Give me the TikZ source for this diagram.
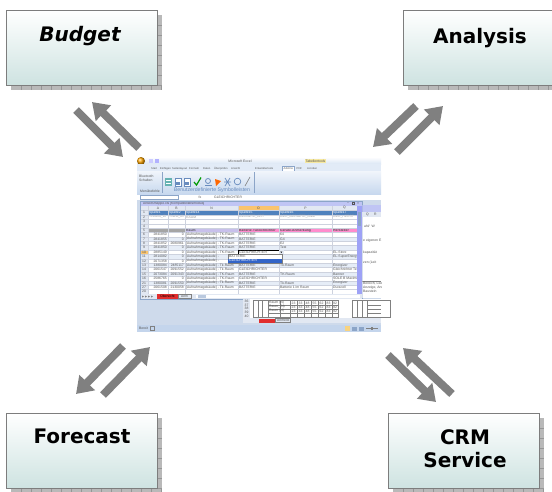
\documentclass[tikz,border=0pt]{standalone}
\usepackage{fontspec}
\setmainfont{Liberation Sans}
\newfontfamily\labfont{DejaVu Sans}
\usetikzlibrary{arrows.meta}
\definecolor{boxbot}{RGB}{206,227,225}
\definecolor{boxline}{RGB}{125,125,125}
\definecolor{shadowc}{RGB}{185,185,185}
\definecolor{shadowl}{RGB}{150,150,150}
\definecolor{arrowc}{RGB}{128,128,128}
\definecolor{ribbonc}{RGB}{219,230,245}
\definecolor{ribbond}{RGB}{199,216,238}
\definecolor{workc}{RGB}{206,218,235}
\definecolor{hdrblue}{RGB}{79,129,189}
\definecolor{pinkc}{RGB}{255,140,205}
\definecolor{lavc}{RGB}{200,192,235}
\definecolor{grayc}{RGB}{165,165,165}
\definecolor{stripec}{RGB}{230,237,247}
\definecolor{selblue}{RGB}{50,100,200}
\definecolor{orangec}{RGB}{250,196,110}
\definecolor{gridc}{RGB}{205,210,222}
\definecolor{redtab}{RGB}{225,45,45}
\definecolor{txtc}{RGB}{85,85,85}
\definecolor{symc}{RGB}{105,140,190}
\definecolor{framec}{RGB}{140,165,200}
\definecolor{hdrgray}{RGB}{226,232,242}
\definecolor{statusc}{RGB}{196,213,236}
\definecolor{yellowc}{RGB}{246,232,160}

\newcommand\mkshadow[4]{%
  \fill[shadowc] (#3,#2+5) rectangle (#3+5,#4+5);
  \fill[shadowc] (#1+5,#4) rectangle (#3+5,#4+5);
  \foreach \kk in {1,...,15}{\draw[shadowl,line width=0.4pt] (#1+5+10*\kk,#4) -- ++(0,5);}
  \foreach \kk in {1,...,7}{\draw[shadowl,line width=0.4pt] (#3,#2+5+10*\kk) -- ++(5,0);}
}

\tikzset{
  labelbox/.style={draw=boxline, line width=0.8pt, top color=white, bottom color=boxbot,
    minimum width=151pt, minimum height=75pt, inner sep=0pt},
  labeltext/.style={font=\labfont\bfseries\fontsize{20}{23}\selectfont, anchor=base,
    inner sep=0pt, align=center},
  flowarrow/.style={draw=arrowc, line width=8pt, -{Triangle[length=16pt,width=21pt]}},
  tinytext/.style={font=\fontsize{3.4}{3.6}\selectfont, inner sep=0pt, text=txtc},
  tinyw/.style={tinytext, anchor=west},
  tinye/.style={tinytext, anchor=east},
  tinyc/.style={tinytext, anchor=center},
  tabtext/.style={font=\fontsize{2.7}{3}\selectfont, inner sep=0pt, text=txtc, anchor=west},
  gridline/.style={draw=gridc, line width=0.3pt},
}

\begin{document}
\begin{tikzpicture}[x=1pt,y=-1pt]
\useasboundingbox (0,0) rectangle (552,491);
\clip (0,0) rectangle (552,491);
\fill[white] (0,0) rectangle (552,491);

% ---------- label boxes ----------
\mkshadow{6}{10}{157}{85}
\mkshadow{403}{10}{554}{85}
\mkshadow{6}{413}{157}{488}
\mkshadow{388}{413}{539}{488}

\node[labelbox] (budget)   at (81.5,47.5) {};
\node[labelbox] (analysis) at (478.5,47.5) {};
\node[labelbox] (forecast) at (81.5,450.5) {};
\node[labelbox] (crm)      at (463.5,450.5) {};

\node[labeltext, font=\labfont\bfseries\itshape\fontsize{20}{23}\selectfont] (budgetT) at (80,41) {Budget};
\node[labeltext] (analysisT) at (480,43) {Analysis};
\node[labeltext] (forecastT) at (82,443) {Forecast};
\node[labeltext] (crmT) at (465,467) {CRM\\Service};

% ---------- arrows ----------
\coordinate (b1s) at (76,110);  \coordinate (b1e) at (123,157);
\coordinate (b2s) at (139,148); \coordinate (b2e) at (92,102);
\coordinate (a1s) at (416,106); \coordinate (a1e) at (373,147);
\coordinate (a2s) at (397,152); \coordinate (a2e) at (443,106);
\coordinate (f1s) at (123,346); \coordinate (f1e) at (76,394);
\coordinate (f2s) at (103,395); \coordinate (f2e) at (150,347);
\coordinate (c1s) at (388,355); \coordinate (c1e) at (436,402);
\coordinate (c2s) at (452,394); \coordinate (c2e) at (403,348);
\draw[flowarrow] (b1s) -- (b1e);
\draw[flowarrow] (b2s) -- (b2e);
\draw[flowarrow] (a1s) -- (a1e);
\draw[flowarrow] (a2s) -- (a2e);
\draw[flowarrow] (f1s) -- (f1e);
\draw[flowarrow] (f2s) -- (f2e);
\draw[flowarrow] (c1s) -- (c1e);
\draw[flowarrow] (c2s) -- (c2e);

% ---------- screenshot ----------
\node[inner sep=0pt, minimum width=244pt, minimum height=175pt, fill=workc] (shot) at (259,244.5) {};
% title bar
\shade[top color=white, bottom color=ribbonc] (137,157) rectangle (381,164);
\fill[yellowc] (305,158.5) rectangle (326,163);
\node[tinyc] at (315.5,160.8) {Tabellentools};
\node[tinyc] at (240,160.8) {Microsoft Excel};
\shade[ball color=orange!70!yellow] (141,161) circle (4);
\fill[white!80!blue] (149,158.5) rectangle (153,162.5);
\fill[white!70!blue] (155,158.5) rectangle (159,162.5);
% tabs
\fill[ribbonc!80!white] (137,164) rectangle (381,171);
\fill[white] (282,166.5) rectangle (294,171);
\draw[framec, line width=0.3pt] (282,171) -- (282,166.5) -- (294,166.5) -- (294,171);
\foreach \tx/\tn in {151/Start,160/Einfügen,172/Seitenlayout,189/Formeln,203/Daten,214/Überprüfen,231/Ansicht,255/Entwicklertools,283.5/Add-Ins,296.5/PDF,307/Acrobat}
  \node[tabtext] at (\tx,168.8) {\tn};
% ribbon
\shade[top color=white!60!ribbonc, bottom color=ribbond] (137,171) rectangle (381,194);
\draw[framec, line width=0.3pt] (162.5,172) -- (162.5,193);
\draw[framec, line width=0.3pt] (254,172) -- (254,193);
\node[tinyw] at (139,176) {Bluetooth};
\node[tinyw] at (139,180.5) {Schalten};
\node[tinyc] at (150,191) {Menübefehle};
% ribbon icons
\fill[teal!60] (165,178) rectangle (172,186);
\draw[white, line width=0.4pt] (166,180.5) -- (171,180.5) (166,183) -- (171,183);
\fill[white] (175,178) rectangle (181,186); \draw[symc, line width=0.5pt] (175,178) rectangle (181,186);
\fill[symc] (176,182) rectangle (180,185);
\fill[white] (184,178) rectangle (190,186); \draw[symc, line width=0.5pt] (184,178) rectangle (190,186);
\fill[symc] (185,182) rectangle (189,185);
\draw[green!60!black, line width=1.2pt] (194,182) -- (196.5,185) -- (201,177.5);
\draw[symc, line width=0.8pt] (208,181) circle (2.5); \draw[symc, line width=0.8pt] (205,185) -- (212,185);
\fill[orange!80!red] (215,179) -- (221,181) -- (216,186) -- cycle;
\draw[symc, line width=0.7pt] (225,178) -- (230,186) (230,178) -- (225,186) (224,182) -- (231,182);
\draw[symc, line width=0.7pt] (237.5,181.5) circle (3.3);
\draw[gray, line width=0.6pt] (245,186) -- (250,177);
\node[font=\fontsize{5.2}{6}\selectfont, inner sep=0pt, text=symc] (symb) at (212,190.5) {Benutzerdefinierte Symbolleisten};
% formula bar
\fill[white] (137,194.5) rectangle (381,199.5);
\draw[framec, line width=0.3pt] (140,195) rectangle (178,199);
\node[tinyc] at (200,197) {fx};
\node[tinyw] at (214,197) {GLEICHRICHTER};

% inner workbook window
\fill[white] (140,201) rectangle (362,299);
\fill[hdrgray!85!blue] (140,201) rectangle (362,205.5);
\node[tinyw] at (143,203.3) {Arbeitsmappe.xls [Kompatibilitätsmodus]};
\node[tinyc] at (348,203.3) {–};
\draw[txtc, line width=0.3pt] (352,202.3) rectangle (354.4,204.4);
\node[tinyc] at (358,203.3) {×};
% column header
\fill[hdrgray] (140,205.5) rectangle (357,210.5);
\fill[orangec] (238,205.5) rectangle (279,210.5);
\foreach \cx/\cl in {158/A,176.5/B,211.5/N,258.5/O,305.5/P,344.5/Q}
  \node[tinyc] at (\cx,208) {\cl};
% row number column
\fill[hdrgray] (140,210.5) rectangle (148,294);
\fill[orangec] (140,250.01) rectangle (148,254.4);
% stripes
\foreach \k in {7,9,...,17}{
  \pgfmathsetmacro\ty{210.5+4.39*(\k-1)}
  \fill[stripec] (148,\ty) rectangle (357,\ty+4.39);
}
% row 1 header
\fill[hdrblue] (148,210.5) rectangle (357,214.89);
\foreach \cx/\cl in {149/Spalte1,169/Spalte2,186/Spalte14,239/Spalte15,280/Spalte16,333/Spalte17}
  \node[tinyw, text=white] at (\cx,212.7) {\cl};
\foreach \cx/\cl in {149/TRAEG\_ID,169/TNZO\_ID,186/RAUM,239/GERAETE\_ART,280/GER\_GERAETE\_ANM,333/GER\_HERST}
  \node[tinyw, text=gray!80] at (\cx,217.1) {\cl};
% row 5
\fill[grayc] (148,228.06) rectangle (185,232.45);
\fill[lavc] (185,228.06) rectangle (238,232.45);
\fill[pinkc] (238,228.06) rectangle (357,232.45);
\node[tinyw, font=\bfseries\fontsize{3.4}{3.6}\selectfont] at (186,230.3) {Raum};
\node[tinyw, font=\bfseries\fontsize{3.4}{3.6}\selectfont] at (239,230.3) {Batterie / Gleichrichter};
\node[tinyw, font=\bfseries\fontsize{3.4}{3.6}\selectfont] at (280,230.3) {Geräte-Anmerkung};
\node[tinyw, font=\bfseries\fontsize{3.4}{3.6}\selectfont] at (333,230.3) {Hersteller};
% grid
\foreach \k in {1,...,20}{
  \pgfmathsetmacro\ty{210.5+4.39*(\k-1)}
  \draw[gridline] (140,\ty) -- (357,\ty);
}
\foreach \gx in {148,168,185,238,279,332,357}
  \draw[gridline] (\gx,205.5) -- (\gx,294);
% row labels
\foreach \lab [count=\k] in {1,...,16,21,27,20}{
  \pgfmathsetmacro\ty{210.5+4.39*(\k-1)+2.2}
  \node[tinyc] at (144,\ty) {\lab};
}
% data
\foreach \k/\ca/\cb/\cn/\co/\cp/\cq in {
 6/2841850/0/TK-Raum/BATTERIE/64/{},
 7/2841855/0/TK-Raum/BATTERIE/G4/{},
 8/2841852/2680961/TK-Raum/BATTERIE/E2/{},
 9/2841850/0/TK-Raum/BATTERIE/Test/{},
 10/2885149/0/TK-Raum/{}/1/EL-Store,
 13/1380084/2485117/Tk-Raum/BATTERIE/Tk-Raum/Energizer,
 14/2061547/2091552/Tk-Raum/GLEICHRICHTER/{}/Gleichrichter Test,
 15/2073084/2091343/TK-Raum/BATTERIE/TK-Raum/Banner,
 16/2586765/0/TK-Raum/GLEICHRICHTER/{}/SOLE B Maximum,
 17/1380081/2091550/Tk-Raum/BATTERIE/Tk-Raum/Energizer,
 18/2061508/2130058/Tk-Raum/BATTERIE/Batterie 1 im Raum/Duracell}{
  \pgfmathsetmacro\ty{210.5+4.39*(\k-1)+2.2}
  \node[tinye] at (167,\ty) {\ca};
  \node[tinye] at (184,\ty) {\cb};
  \node[tinyw] at (186,\ty) {[Aufnahmegebäude] - \cn};
  \node[tinyw] at (239,\ty) {\co};
  \node[tinyw] at (280,\ty) {\cp};
  \node[tinyw] at (333,\ty) {\cq};
}
% rows 11 and 12 (partly hidden by the dropdown list)
\node[tinye] at (167,256.6) {2814082};
\node[tinye] at (184,256.6) {0};
\node[tinyw] at (280,256.6) {2};
\node[tinyw] at (333,256.6) {EL-SuperEnergy};
\node[tinye] at (167,261.0) {2071358};
\node[tinye] at (184,261.0) {0};
\node[tinyw] at (186,256.6) {[Aufnahmegebäude] -};
\node[tinyw] at (186,261.0) {[Aufnahmegebäude] -};
% selected cell with dropdown
\fill[white] (238,250.01) rectangle (279,254.4);
\draw[black, line width=0.5pt] (238,250.01) rectangle (279,254.4);
\node[tinyw] at (239,252.2) {GLEICHRICHTER};
\fill[hdrgray] (279,250.3) rectangle (283.5,254.1);
\fill[black] (280.3,251.5) -- (282.3,251.5) -- (281.3,253) -- cycle;
\fill[white] (228,254.4) rectangle (282,262.8);
\draw[gray, line width=0.3pt] (228,254.4) rectangle (282,262.8);
\node[tinyw] at (229,256.4) {BATTERIE};
\fill[selblue] (228.3,258.6) rectangle (281.7,262.5);
\node[tinyw, text=white] at (229,260.5) {GLEICHRICHTER};
% scrollbar
\fill[hdrgray!70!blue] (357,205.5) rectangle (362,294);
\fill[framec] (357.6,212) rectangle (361.4,226);
% sheet tabs
\fill[hdrgray] (140,294) rectangle (362,299);
\foreach \nx in {142,145,148,151}
  \fill[gray] (\nx,295.5) -- (\nx+2,296.5) -- (\nx,297.5) -- cycle;
\fill[redtab] (157,294.3) rectangle (178,298.5);
\node[tinyc, text=black] at (167.5,296.4) {Übersicht};
\draw[gray, line width=0.3pt] (178,294.3) rectangle (191,298.5);
\node[tinyc] at (184.5,296.4) {Anm};
\fill[white] (196,294.8) rectangle (360,298.2);
\fill[framec!60] (198,295.2) rectangle (206,297.8);
\draw[framec, line width=0.5pt] (140,201) rectangle (362,299);

% background sheet on the right
\begin{scope}
\clip (362.3,201) rectangle (381,300);
\fill[hdrgray!85!blue] (362.3,205) rectangle (381,212);
\fill[white] (362.3,212) rectangle (381,298);
\fill[hdrgray] (362.3,212) rectangle (381,217);
\node[tinyw] at (366,214.5) {Q};
\node[tinyw] at (374,214.5) {R};
\node[tinyw] at (364,226) {ahl/ \ W};
\node[tinyw] at (363,241) {e eigenen E};
\node[tinyw] at (363,253) {kapazität};
\node[tinyw] at (363,262.5) {zen (Leit};
\draw[gray, line width=0.3pt] (362.3,281) -- (381,281);
\node[tinyw] at (363,283.5) {Bereich, Lee};
\node[tinyw] at (363,287.5) {Anzeige, Anm};
\node[tinyw] at (363,291.5) {Baustein};
\end{scope}

% lower sheet portion
\fill[white] (243,299) rectangle (381,318);
\fill[hdrgray] (243,299) rectangle (250,318);
\foreach \lab [count=\k] in {36,37,38,39,40}
  \node[tinyc] at (246.5,299.2+3.7*\k-1.6) {\lab};
\begin{scope}[line width=0.3pt, draw=gray]
  \draw (253,300) rectangle (338,317);
  \foreach \gx in {258,262,268,280,290,297,304,311,318,325,332}
    \draw (\gx,300) -- (\gx,317);
  \foreach \gy in {305,309,313}
    \draw (268,\gy) -- (338,\gy);
  \draw (352,300) rectangle (390,317);
  \foreach \gx in {357,362,367}
    \draw (\gx,300) -- (\gx,317);
  \foreach \gy in {305,309,313}
    \draw (367,\gy) -- (381,\gy);
\end{scope}
\node[tinyw] at (269,303) {Raum (N)};
\node[tinyw] at (269,307) {Raum\_(N)};
\node[tinyw] at (269,311) {Raum (N)};
\foreach \gx/\gv in {293.5/23,300.5/33,307.5/48,314.5/55,321.5/62,328.5/83,335/92}
  \foreach \gy in {303,307,311}
    \node[tinyc] at (\gx,\gy) {\gv};
\fill[hdrgray] (243,318) rectangle (381,323);
\fill[redtab] (259,318.5) rectangle (275,322.5);
\node[tinyw] at (277,320.5) {Anmeld.};
\draw[gray, line width=0.3pt] (275,318.5) rectangle (290,322.5);
% status bar
\fill[statusc] (137,325) rectangle (381,332);
\node[tinyw] at (139,328.5) {Bereit};
\draw[gray, line width=0.3pt] (150,326.5) rectangle (154,330.5);
\fill[yellowc!80!orange] (345,326) rectangle (350,331);
\fill[framec] (352,326.5) rectangle (357,330.5);
\fill[framec] (359,326.5) rectangle (364,330.5);
\draw[gray, line width=0.5pt] (366,328.5) -- (378,328.5);
\fill[gray] (371,327) rectangle (372.5,330);
\end{tikzpicture}
\end{document}
